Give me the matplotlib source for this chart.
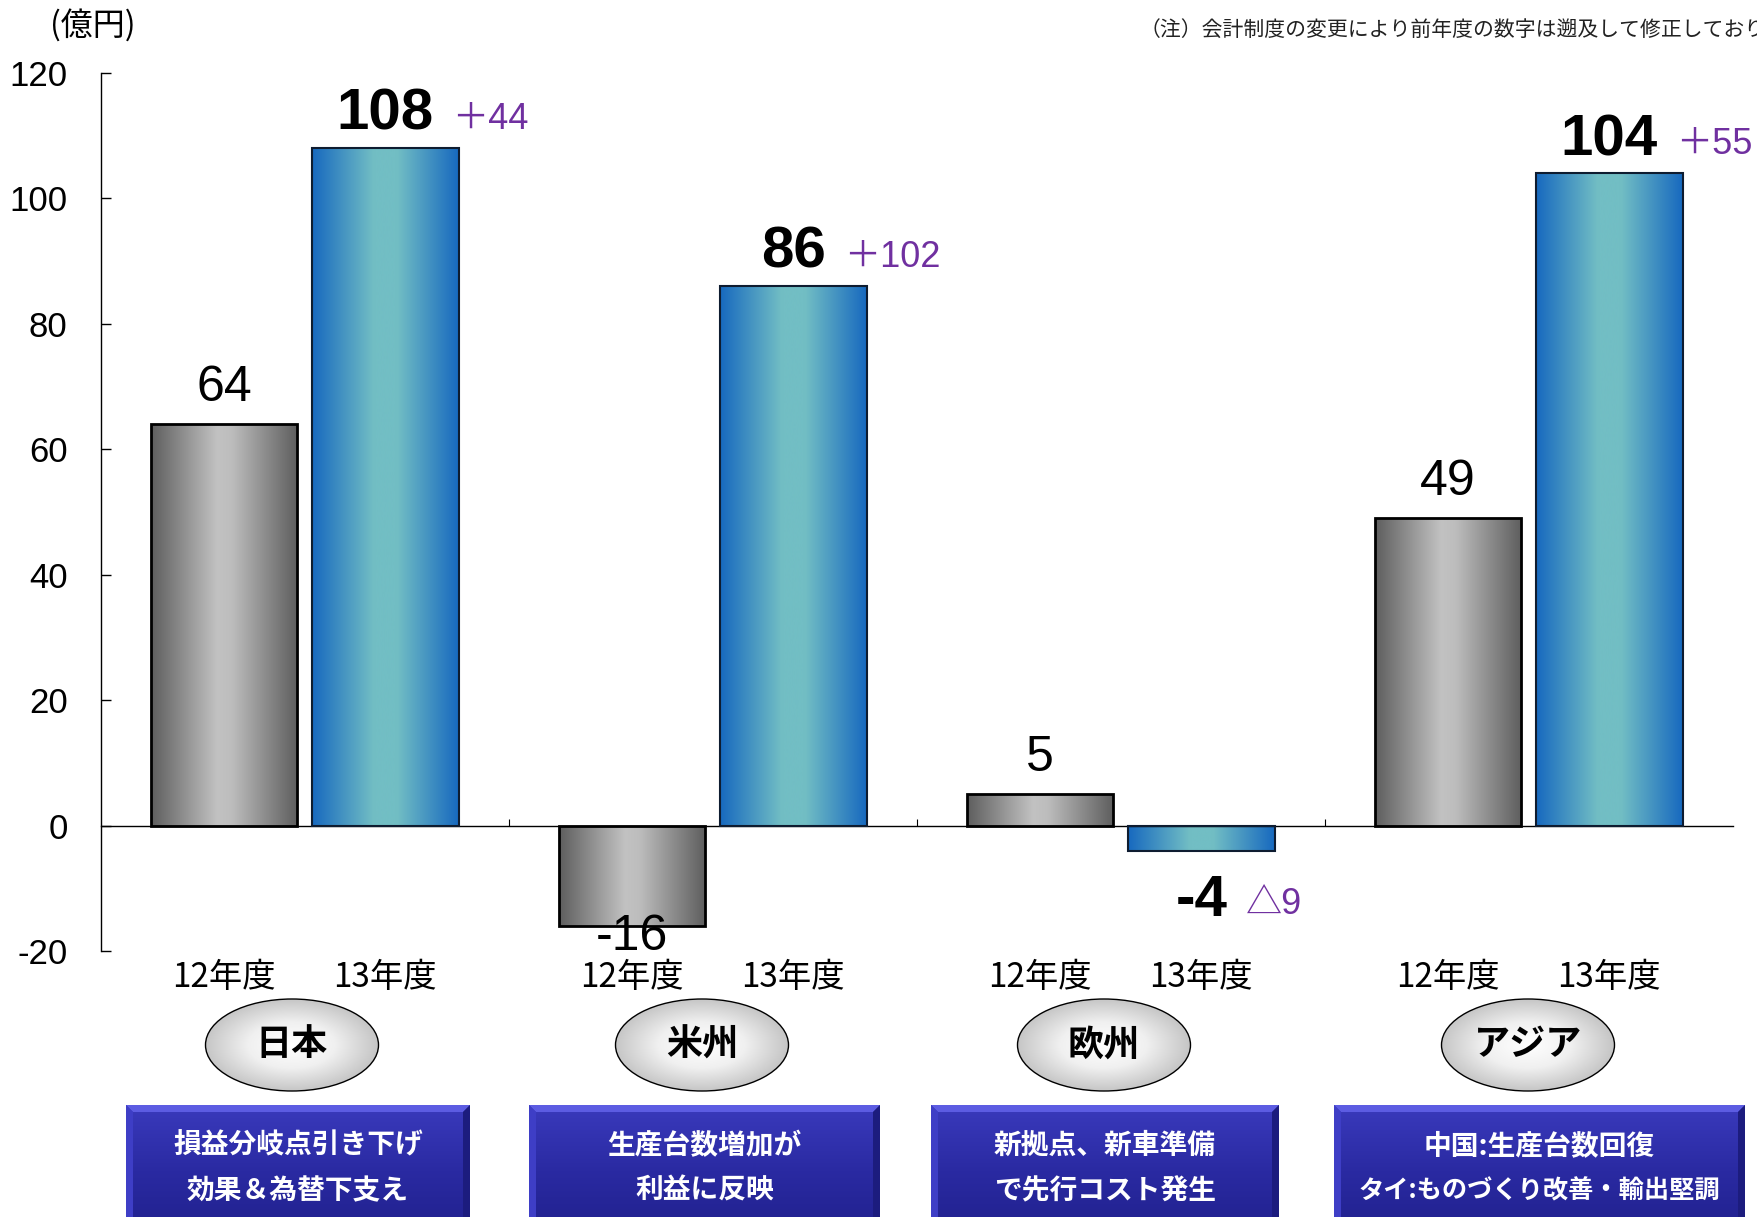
import numpy as np
import matplotlib.pyplot as plt
from matplotlib.colors import LinearSegmentedColormap
from matplotlib.patches import Ellipse, Rectangle, Polygon
from matplotlib.transforms import blended_transform_factory

# データ（億円）
regions = ['日本', '米州', '欧州', 'アジア']
years = ['12年度', '13年度']
fy12 = [64, -16, 5, 49]
fy13 = [108, 86, -4, 104]
comments = [['損益分岐点引き下げ', '効果＆為替下支え'],
            ['生産台数増加が', '利益に反映'],
            ['新拠点、新車準備', 'で先行コスト発生'],
            ['中国:生産台数回復', 'タイ:ものづくり改善・輸出堅調']]
yticks = [-20, 0, 20, 40, 60, 80, 100, 120]
unit_label = '(億円)'
note = '（注）会計制度の変更により前年度の数字は遡及して修正しております'

JP = ['Noto Sans CJK JP', 'DejaVu Sans']
NUM = ['Liberation Sans', 'Noto Sans CJK JP', 'DejaVu Sans']
plt.rcParams['font.family'] = NUM
plt.rcParams['axes.unicode_minus'] = False

W, H = 1758, 1217
fig = plt.figure(figsize=(W / 100, H / 100), dpi=100)
ax = fig.add_axes([101 / W, 1 - 951 / H, (1733 - 101) / W, (951 - 73) / H])

gray_cmap = LinearSegmentedColormap.from_list(
    'g', [(0, '#5e5e5e'), (0.45, '#c2c2c2'), (0.55, '#bdbdbd'), (1, '#5e5e5e')])
blue_cmap = LinearSegmentedColormap.from_list(
    'b', [(0, '#1769bf'), (0.42, '#72bec4'), (0.58, '#72bec4'), (1, '#1769bf')])
grad = np.linspace(0, 1, 256).reshape(1, -1)

off12, off13, bw = 0.302, 0.697, 0.359


def grad_bar(xc, val, cmap, ec, lw):
    b = ax.bar(xc, val, bw, facecolor='none', edgecolor=ec, linewidth=lw, zorder=3)[0]
    im = ax.imshow(grad, cmap=cmap, aspect='auto', interpolation='bicubic',
                   extent=(xc - bw / 2, xc + bw / 2, min(0, val), max(0, val)), zorder=2)
    im.set_clip_path(b)
    return b


for i in range(len(regions)):
    # 12年度
    v = fy12[i]
    xc = i + off12
    grad_bar(xc, v, gray_cmap, 'black', 2.0)
    ax.annotate(str(v), (xc, v), xytext=(0, 26 if v > 0 else -8),
                textcoords='offset points', ha='center', va='center', fontsize=36)
    # 13年度
    v = fy13[i]
    xc = i + off13
    grad_bar(xc, v, blue_cmap, '#0e1c30', 1.5)
    t = ax.annotate(str(v), (xc, v), xytext=(0, 24 if v > 0 else -36),
                    textcoords='offset points', ha='center', va='center',
                    fontsize=42, fontweight='bold')
    d = fy13[i] - fy12[i]
    s = f'＋{d}' if d >= 0 else f'△{-d}'
    ax.annotate(s, xy=(1, 0.42), xycoords=t, xytext=(13, 0), textcoords='offset points',
                ha='left', va='center', fontsize=26, color='#7030a0')

ax.set_xlim(0, 4)
ax.set_ylim(-20, 120)
ax.set_yticks(yticks)
ax.tick_params(axis='y', direction='in', length=7, width=1, labelsize=25, pad=24)
ax.set_xticks([1, 2, 3])
ax.tick_params(axis='x', direction='in', length=5, width=0.8, labelbottom=False)
ax.spines['bottom'].set_position(('data', 0))
ax.spines['top'].set_visible(False)
ax.spines['right'].set_visible(False)
for sp in ['left', 'bottom']:
    ax.spines[sp].set_linewidth(1)

# 年度ラベル
trans = blended_transform_factory(ax.transData, fig.transFigure)
for i in range(len(regions)):
    for off, lab in zip([off12, off13], years):
        ax.text(i + off, 1 - 978 / H, lab, transform=trans, ha='center', va='center',
                fontsize=24, family=JP)

# 重ねる軸（ピクセル座標）
ov = fig.add_axes([0, 0, 1, 1])
ov.patch.set_visible(False)
ov.axis('off')

ov.text(50, 25, unit_label, ha='left', va='center', fontsize=23, family=JP)
ov.text(1140, 30, note, ha='left', va='center', fontsize=15, family=JP, color='#222222')

# 地域の楕円
ell_x = [292, 702, 1104, 1528]
ell_y, ew, eh = 1045, 173, 92
yy, xx = np.mgrid[-1:1:200j, -1:1:200j]
rr = np.clip(np.sqrt(xx ** 2 + yy ** 2), 0, 1)
ell_cmap = LinearSegmentedColormap.from_list('e', ['#ffffff', '#f0f0f0', '#c6c6c6'])
for cx, name in zip(ell_x, regions):
    e = Ellipse((cx, ell_y), ew, eh, facecolor='none', edgecolor='black', linewidth=1, zorder=3)
    ov.add_patch(e)
    im = ov.imshow(rr, cmap=ell_cmap, aspect='auto', zorder=2,
                   extent=(cx - ew / 2, cx + ew / 2, ell_y + eh / 2, ell_y - eh / 2))
    im.set_clip_path(e)
    ov.text(cx, ell_y, name, ha='center', va='center', fontsize=26, fontweight='bold',
            family=JP, zorder=4)

# コメントの箱
box_x = [(126, 470), (529, 880), (931, 1279), (1334, 1745)]
top, bot = 1105, H + 20
vgrad = np.linspace(0, 1, 100).reshape(-1, 1)
box_cmap = LinearSegmentedColormap.from_list('bx', ['#3a3abc', '#2a2aa2', '#20208c'])
bv = 7
renderer = fig.canvas.get_renderer()
for (x0, x1), lines in zip(box_x, comments):
    rect = Rectangle((x0, top), x1 - x0, bot - top, facecolor='none', edgecolor='none')
    ov.add_patch(rect)
    im = ov.imshow(vgrad, cmap=box_cmap, aspect='auto', extent=(x0, x1, bot, top), zorder=2)
    im.set_clip_path(rect)
    ov.add_patch(Polygon([(x0, top), (x1, top), (x1 - bv, top + bv), (x0 + bv, top + bv)],
                         facecolor='#5c5ce2', edgecolor='none', zorder=3))
    ov.add_patch(Polygon([(x0, top), (x0 + bv, top + bv), (x0 + bv, bot), (x0, bot)],
                         facecolor='#3e3ec6', edgecolor='none', zorder=3))
    ov.add_patch(Polygon([(x1, top), (x1 - bv, top + bv), (x1 - bv, bot), (x1, bot)],
                         facecolor='#1c1c7e', edgecolor='none', zorder=3))
    cx = (x0 + x1) / 2
    for ty, line in zip([1146, 1191], lines):
        tt = ov.text(cx, ty, line, ha='center', va='center', fontsize=20, fontweight='bold',
                     color='white', family=JP, zorder=4)
        wpx = tt.get_window_extent(renderer).width
        if wpx > 362:
            tt.set_fontsize(20 * 362 / wpx)

ov.set_xlim(0, W)
ov.set_ylim(H, 0)

fig.savefig('out.png', dpi=100)
